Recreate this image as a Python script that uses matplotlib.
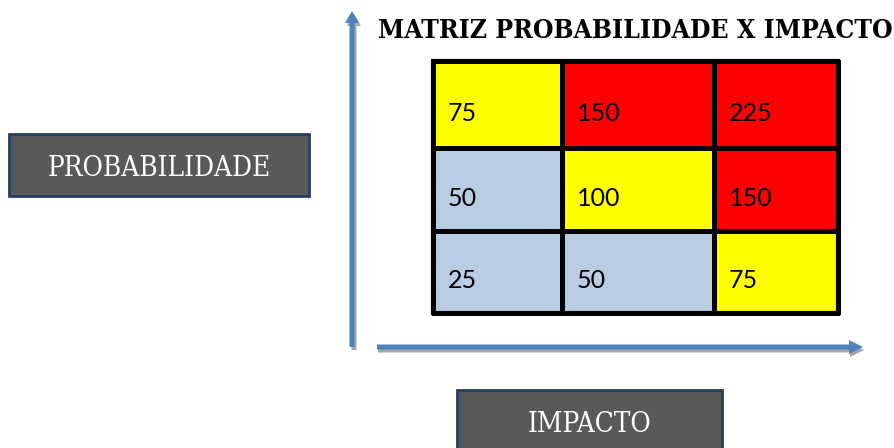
import matplotlib.pyplot as plt
from matplotlib.colors import ListedColormap
from matplotlib.patches import Rectangle, FancyArrow
import numpy as np

# Data: risk matrix (rows top -> bottom, cols left -> right)
probabilidade = [3, 2, 1]
impacto = [25, 50, 75]
valores = [[75, 150, 225],
           [50, 100, 150],
           [25, 50, 75]]
# risk level per cell: 0 = low (blue), 1 = medium (yellow), 2 = high (red)
niveis = [[1, 2, 2],
          [0, 1, 2],
          [0, 0, 1]]
cores_nivel = ['#B8CCE4', '#FFFF00', '#FF0000']

titulo = 'MATRIZ PROBABILIDADE X IMPACTO'
rotulo_y = 'PROBABILIDADE'
rotulo_x = 'IMPACTO'

W, H = 894, 448
fig = plt.figure(figsize=(W / 100, H / 100), dpi=100)
ax = fig.add_axes([0, 0, 1, 1])
ax.set_xlim(0, W)
ax.set_ylim(H, 0)
ax.axis('off')

# grid cell edges in pixel coordinates
x_edges = [433, 562, 714, 838]
y_edges = [61, 148, 231, 313]

ax.pcolormesh(x_edges, y_edges, np.array(niveis), cmap=ListedColormap(cores_nivel),
              vmin=-0.5, vmax=2.5, edgecolor='black', linewidth=2.5)
ax.add_patch(Rectangle((x_edges[0], y_edges[0]), x_edges[-1] - x_edges[0],
                       y_edges[-1] - y_edges[0], fill=False, ec='black', lw=3))

for i, linha in enumerate(valores):
    for j, v in enumerate(linha):
        ax.text(x_edges[j] + 15, (y_edges[i] + y_edges[i + 1]) / 2 + 9, str(v),
                fontsize=18, family='Lato', va='center', ha='left', color='black')

# title
ax.text(635, 31, titulo, fontsize=19, family='DejaVu Serif', stretch='condensed',
        weight='bold', ha='center', va='center')

# arrows (gray shadow then blue)
blue = '#4F81BD'
shadow = '#A6A6A6'
ax.add_patch(FancyArrow(354, 350, 0, -336, width=5, head_width=14, head_length=12,
                        length_includes_head=True, color=shadow, lw=0))
ax.add_patch(FancyArrow(352, 347, 0, -336, width=5, head_width=14, head_length=12,
                        length_includes_head=True, color=blue, lw=0))
ax.add_patch(FancyArrow(378, 350, 486, 0, width=5, head_width=14, head_length=14,
                        length_includes_head=True, color=shadow, lw=0))
ax.add_patch(FancyArrow(377, 347, 486, 0, width=5, head_width=14, head_length=14,
                        length_includes_head=True, color=blue, lw=0))

# label boxes
for (x0, y0, w, h, txt) in [(9, 134, 300, 62, rotulo_y), (457, 390, 265, 62, rotulo_x)]:
    ax.add_patch(Rectangle((x0, y0), w, h, fc='#595959', ec='#243F60', lw=2))
    ty = y0 + 34 if txt == rotulo_y else 425
    ax.text(x0 + w / 2, ty, txt, fontsize=20, family='DejaVu Serif', stretch='condensed',
            color='white', ha='center', va='center')

fig.savefig('out.png', dpi=100)
